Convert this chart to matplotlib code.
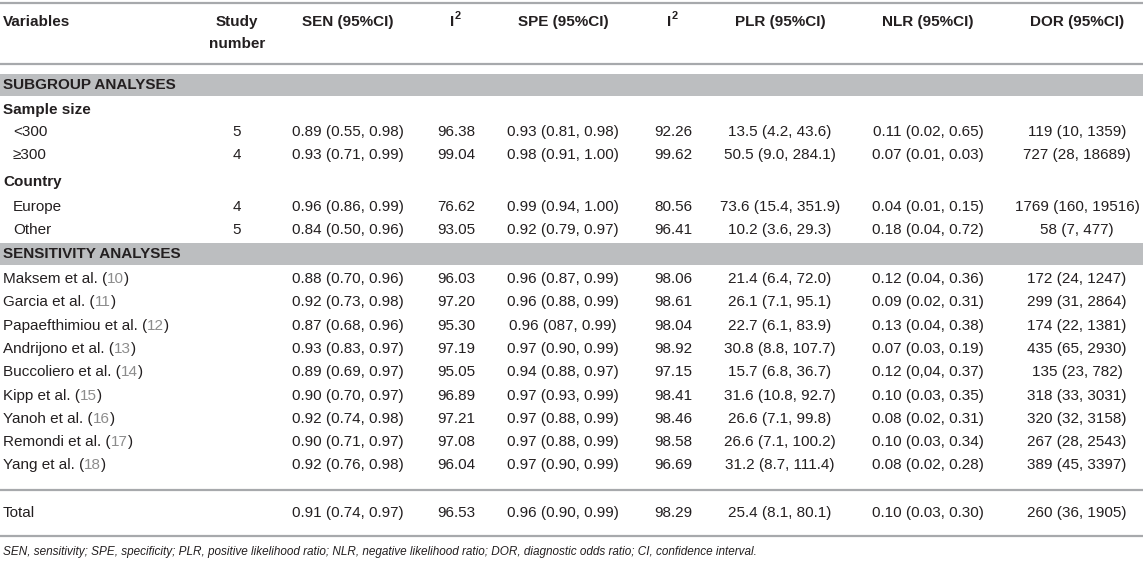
import matplotlib
matplotlib.use('Agg')
import matplotlib.pyplot as plt

plt.rcParams['font.family'] = ['Liberation Sans', 'DejaVu Sans']

headers = ['Variables', 'Study\nnumber', 'SEN (95%CI)', 'I', 'SPE (95%CI)', 'I',
           'PLR (95%CI)', 'NLR (95%CI)', 'DOR (95%CI)']

# subgroup analyses
sub_groups = ['Sample size', 'Country']
sub_names = ['<300', '\u2265300', 'Europe', 'Other']
sub_study = ['5', '4', '4', '5']
sub_sen = ['0.89 (0.55, 0.98)', '0.93 (0.71, 0.99)', '0.96 (0.86, 0.99)', '0.84 (0.50, 0.96)']
sub_i2_sen = ['96.38', '99.04', '76.62', '93.05']
sub_spe = ['0.93 (0.81, 0.98)', '0.98 (0.91, 1.00)', '0.99 (0.94, 1.00)', '0.92 (0.79, 0.97)']
sub_i2_spe = ['92.26', '99.62', '80.56', '96.41']
sub_plr = ['13.5 (4.2, 43.6)', '50.5 (9.0, 284.1)', '73.6 (15.4, 351.9)', '10.2 (3.6, 29.3)']
sub_nlr = ['0.11 (0.02, 0.65)', '0.07 (0.01, 0.03)', '0.04 (0.01, 0.15)', '0.18 (0.04, 0.72)']
sub_dor = ['119 (10, 1359)', '727 (28, 18689)', '1769 (160, 19516)', '58 (7, 477)']

# sensitivity analyses (one study left out each time)
sens_names = ['Maksem et al.', 'Garcia et al.', 'Papaefthimiou et al.', 'Andrijono et al.',
              'Buccoliero et al.', 'Kipp et al.', 'Yanoh et al.', 'Remondi et al.', 'Yang et al.']
sens_refs = ['10', '11', '12', '13', '14', '15', '16', '17', '18']
sens_sen = ['0.88 (0.70, 0.96)', '0.92 (0.73, 0.98)', '0.87 (0.68, 0.96)', '0.93 (0.83, 0.97)',
            '0.89 (0.69, 0.97)', '0.90 (0.70, 0.97)', '0.92 (0.74, 0.98)', '0.90 (0.71, 0.97)',
            '0.92 (0.76, 0.98)']
sens_i2_sen = ['96.03', '97.20', '95.30', '97.19', '95.05', '96.89', '97.21', '97.08', '96.04']
sens_spe = ['0.96 (0.87, 0.99)', '0.96 (0.88, 0.99)', '0.96 (087, 0.99)', '0.97 (0.90, 0.99)',
            '0.94 (0.88, 0.97)', '0.97 (0.93, 0.99)', '0.97 (0.88, 0.99)', '0.97 (0.88, 0.99)',
            '0.97 (0.90, 0.99)']
sens_i2_spe = ['98.06', '98.61', '98.04', '98.92', '97.15', '98.41', '98.46', '98.58', '96.69']
sens_plr = ['21.4 (6.4, 72.0)', '26.1 (7.1, 95.1)', '22.7 (6.1, 83.9)', '30.8 (8.8, 107.7)',
            '15.7 (6.8, 36.7)', '31.6 (10.8, 92.7)', '26.6 (7.1, 99.8)', '26.6 (7.1, 100.2)',
            '31.2 (8.7, 111.4)']
sens_nlr = ['0.12 (0.04, 0.36)', '0.09 (0.02, 0.31)', '0.13 (0.04, 0.38)', '0.07 (0.03, 0.19)',
            '0.12 (0,04, 0.37)', '0.10 (0.03, 0.35)', '0.08 (0.02, 0.31)', '0.10 (0.03, 0.34)',
            '0.08 (0.02, 0.28)']
sens_dor = ['172 (24, 1247)', '299 (31, 2864)', '174 (22, 1381)', '435 (65, 2930)',
            '135 (23, 782)', '318 (33, 3031)', '320 (32, 3158)', '267 (28, 2543)',
            '389 (45, 3397)']

total = ['Total', '', '0.91 (0.74, 0.97)', '96.53', '0.96 (0.90, 0.99)', '98.29',
         '25.4 (8.1, 80.1)', '0.10 (0.03, 0.30)', '260 (36, 1905)']

footnote = ('SEN, sensitivity; SPE, specificity; PLR, positive likelihood ratio; NLR, negative '
            'likelihood ratio; DOR, diagnostic odds ratio; CI, confidence interval.')

W, H = 1143, 561
col_x = [3, 237, 348, 456, 563, 673, 780, 928, 1077]
txt = '#231f20'
ref_col = '#8c8c8c'
line_col = '#a7a9ac'
band_col = '#bcbec0'
fs = 11

fig = plt.figure(figsize=(W / 100, H / 100), dpi=100)
ax = fig.add_axes([0, 0, 1, 1])
ax.set_xlim(0, W)
ax.set_ylim(H, 0)
ax.axis('off')
renderer = fig.canvas.get_renderer()


def hline(y):
    ax.plot([0, W], [y, y], color=line_col, lw=1.6, solid_capstyle='butt')


def band(y0, y1, label):
    ax.fill_between([0, W], y0, y1, color=band_col, lw=0)
    ax.text(col_x[0], (y0 + y1) / 2, label, fontsize=fs, fontweight='bold', color=txt,
            va='center', ha='left')


def row(y, cells, indent=0):
    ax.text(col_x[0] + indent, y, cells[0], fontsize=fs, color=txt, va='center', ha='left')
    for x, c in zip(col_x[1:], cells[1:]):
        ax.text(x, y, c, fontsize=fs, color=txt, va='center', ha='center')


def ref_name(y, name, ref):
    # name with a grey reference number in brackets
    x = col_x[0]
    for part, c in [(name + ' (', txt), (ref, ref_col), (')', txt)]:
        t = ax.text(x, y, part, fontsize=fs, color=c, va='center', ha='left')
        bb = t.get_window_extent(renderer=renderer)
        x = x + bb.width


# header
hline(3)
ax.text(col_x[0], 22, headers[0], fontsize=fs, fontweight='bold', color=txt, va='center')
ax.text(col_x[1], 22, 'Study', fontsize=fs, fontweight='bold', color=txt, va='center', ha='center')
ax.text(col_x[1], 44, 'number', fontsize=fs, fontweight='bold', color=txt, va='center', ha='center')
for x, h in zip(col_x[2:], headers[2:]):
    if h == 'I':
        ax.text(x - 2, 22, h, fontsize=fs, fontweight='bold', color=txt, va='center', ha='right')
        ax.text(x - 1, 16, '2', fontsize=fs * 0.72, fontweight='bold', color=txt,
                va='center', ha='left')
    else:
        ax.text(x, 22, h, fontsize=fs, fontweight='bold', color=txt, va='center', ha='center')
hline(64)

band(74, 96, 'SUBGROUP ANALYSES')
ys = [110, 132, 155, 182, 207, 230]
for g in range(2):
    ax.text(col_x[0], ys[g * 3], sub_groups[g], fontsize=fs, fontweight='bold', color=txt, va='center')
    for j in range(2):
        i = g * 2 + j
        row(ys[g * 3 + 1 + j], [sub_names[i], sub_study[i], sub_sen[i], sub_i2_sen[i], sub_spe[i],
                                sub_i2_spe[i], sub_plr[i], sub_nlr[i], sub_dor[i]], indent=10)

band(243, 265, 'SENSITIVITY ANALYSES')
for i in range(len(sens_names)):
    y = 279 + i * 23.3
    ref_name(y, sens_names[i], sens_refs[i])
    row(y, ['', ''] + [sens_sen[i], sens_i2_sen[i], sens_spe[i], sens_i2_spe[i],
                        sens_plr[i], sens_nlr[i], sens_dor[i]])

hline(490)
row(513, total)
hline(536)
ax.text(col_x[0], 552, footnote, fontsize=8.45, style='italic', color=txt, va='center', ha='left')

fig.savefig('out.png', dpi=100)
